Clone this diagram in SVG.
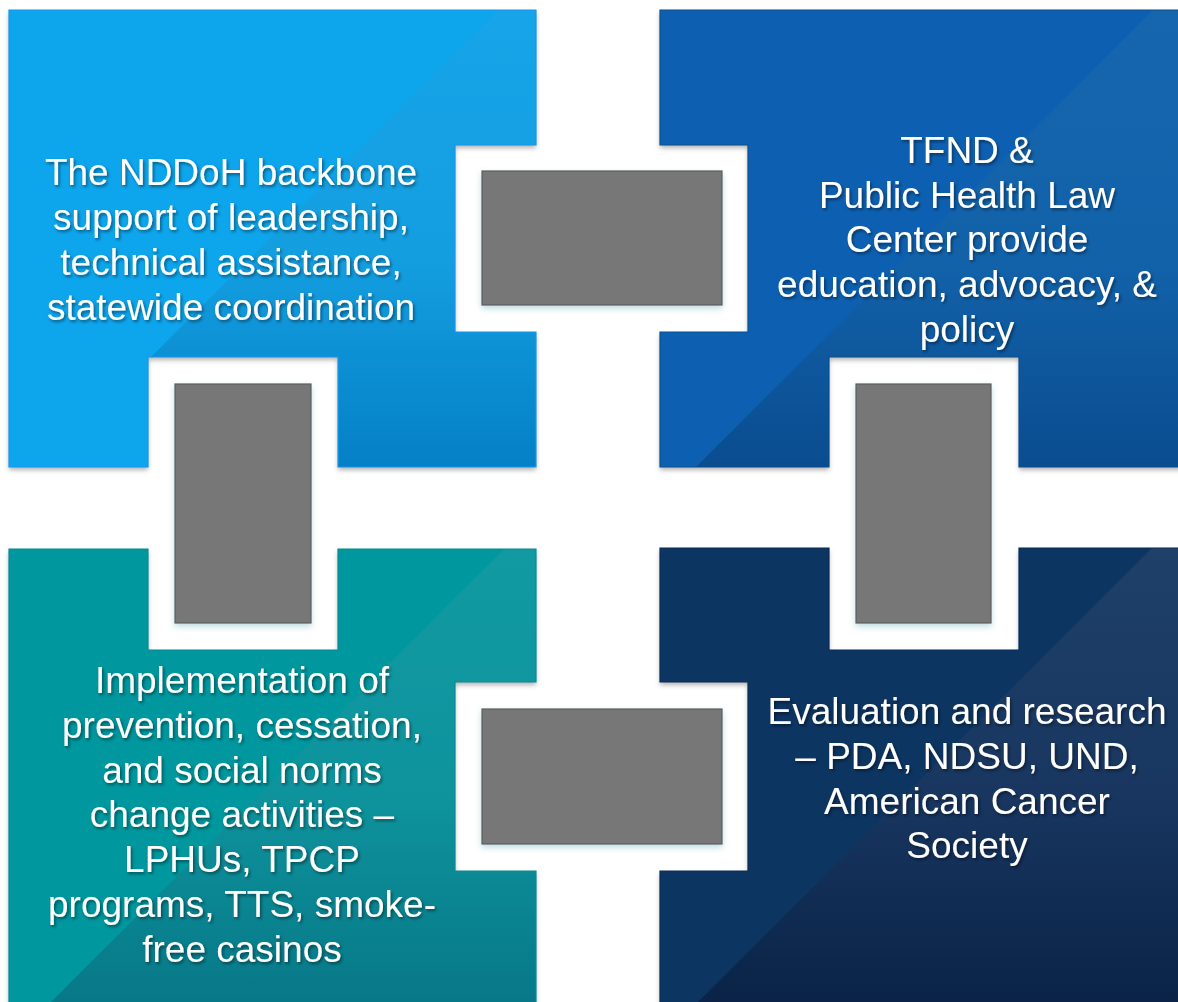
<svg xmlns="http://www.w3.org/2000/svg" width="1178" height="1002" viewBox="0 0 1178 1002">
<style>
.lbl{font-family:"Liberation Sans",Arial,sans-serif;font-size:37px;fill:#ffffff;text-anchor:middle;filter:url(#tshadow)}
.blk{fill:#777777;stroke:#5c5c5c;stroke-width:1.2;filter:url(#gshadow)}
</style>
<defs>
<filter id="sshadow" x="-5%" y="-5%" width="110%" height="115%">
<feDropShadow dx="0" dy="3" stdDeviation="2.5" flood-color="#000" flood-opacity="0.3"/>
</filter>
<filter id="gshadow" x="-10%" y="-10%" width="120%" height="125%">
<feDropShadow dx="0" dy="3" stdDeviation="3" flood-color="#6fb0c0" flood-opacity="0.45"/>
</filter>
<filter id="tshadow" x="-5%" y="-20%" width="110%" height="150%">
<feDropShadow dx="1.5" dy="2" stdDeviation="1.5" flood-color="#000" flood-opacity="0.45"/>
</filter>
<path id="pTL" d="M9,10 H536 V145 H455 V332 H536 V467 H338 V357 H148 V467 H9 Z"/>
<path id="pTR" d="M660,10 H1182 V467 H1019 V357 H829 V467 H660 V332 H748 V145 H660 Z"/>
<path id="pBL" d="M9,549 H148 V650 H338 V549 H536 V682 H455 V871 H536 V1006 H9 Z"/>
<path id="pBR" d="M660,548 H829 V650 H1019 V548 H1182 V1006 H660 V871 H748 V682 H660 Z"/>
<clipPath id="cTL"><use href="#pTL"/></clipPath>
<clipPath id="cTR"><use href="#pTR"/></clipPath>
<clipPath id="cBL"><use href="#pBL"/></clipPath>
<clipPath id="cBR"><use href="#pBR"/></clipPath>
<linearGradient id="gTL" gradientUnits="userSpaceOnUse" x1="0" y1="10" x2="0" y2="467">
<stop offset="0" stop-color="#17a4e8"/><stop offset="0.55" stop-color="#139ee0"/><stop offset="1" stop-color="#0580c6"/>
</linearGradient>
<linearGradient id="gTR" gradientUnits="userSpaceOnUse" x1="0" y1="10" x2="0" y2="467">
<stop offset="0" stop-color="#1566ae"/><stop offset="0.55" stop-color="#1262aa"/><stop offset="1" stop-color="#0a4c8f"/>
</linearGradient>
<linearGradient id="gBL" gradientUnits="userSpaceOnUse" x1="0" y1="549" x2="0" y2="1002">
<stop offset="0" stop-color="#119aa2"/><stop offset="0.55" stop-color="#0e939d"/><stop offset="1" stop-color="#077888"/>
</linearGradient>
<linearGradient id="gBR" gradientUnits="userSpaceOnUse" x1="0" y1="548" x2="0" y2="1002">
<stop offset="0" stop-color="#1e4069"/><stop offset="0.55" stop-color="#183660"/><stop offset="1" stop-color="#0a2347"/>
</linearGradient>
</defs>
<rect width="1178" height="1002" fill="#ffffff"/>

<g id="node-tl">
<use href="#pTL" fill="#0aa5ec" filter="url(#sshadow)"/>
<polygon clip-path="url(#cTL)" points="148,360 498,10 540,10 540,470 148,470" fill="url(#gTL)"/>
<use href="#pTL" fill="none" stroke="#1896f0" stroke-width="1.2"/>
<text class="lbl"><tspan x="231" y="185">The NDDoH backbone</tspan><tspan x="231" y="230">support of leadership,</tspan><tspan x="231" y="275">technical assistance,</tspan><tspan x="231" y="320">statewide coordination</tspan></text>
</g>

<g id="node-tr">
<use href="#pTR" fill="#0760b1" filter="url(#sshadow)"/>
<polygon clip-path="url(#cTR)" points="696,467 1153,10 1182,10 1182,470 693,470" fill="url(#gTR)"/>
<use href="#pTR" fill="none" stroke="#0b4f8f" stroke-width="1.2"/>
<text class="lbl"><tspan x="967" y="163">TFND &amp;</tspan><tspan x="967" y="208">Public Health Law</tspan><tspan x="967" y="252">Center provide</tspan><tspan x="967" y="297">education, advocacy, &amp;</tspan><tspan x="967" y="342">policy</tspan></text>
</g>

<g id="node-bl">
<use href="#pBL" fill="#01979e" filter="url(#sshadow)"/>
<polygon clip-path="url(#cBL)" points="51,1002 504,549 540,549 540,1006 47,1006" fill="url(#gBL)"/>
<use href="#pBL" fill="none" stroke="#078c94" stroke-width="1.2"/>
<text class="lbl"><tspan x="242" y="693">Implementation of</tspan><tspan x="242" y="738">prevention, cessation,</tspan><tspan x="242" y="783">and social norms</tspan><tspan x="242" y="827">change activities –</tspan><tspan x="242" y="872">LPHUs, TPCP</tspan><tspan x="242" y="917">programs, TTS, smoke-</tspan><tspan x="242" y="962">free casinos</tspan></text>
</g>

<g id="node-br">
<use href="#pBR" fill="#0b3462" filter="url(#sshadow)"/>
<polygon clip-path="url(#cBR)" points="698,1002 1152,548 1182,548 1182,1006 694,1006" fill="url(#gBR)"/>
<use href="#pBR" fill="none" stroke="#0a2c55" stroke-width="1.2"/>
<text class="lbl"><tspan x="967" y="724">Evaluation and research</tspan><tspan x="967" y="769">– PDA, NDSU, UND,</tspan><tspan x="967" y="814">American Cancer</tspan><tspan x="967" y="858">Society</tspan></text>
</g>

<g id="connectors">
<rect id="link-top" class="blk" x="482" y="171" width="240" height="134"/>
<rect id="link-left" class="blk" x="175" y="384" width="136" height="239"/>
<rect id="link-right" class="blk" x="856" y="384" width="135" height="239"/>
<rect id="link-bottom" class="blk" x="482" y="709" width="240" height="135"/>
</g>
</svg>
